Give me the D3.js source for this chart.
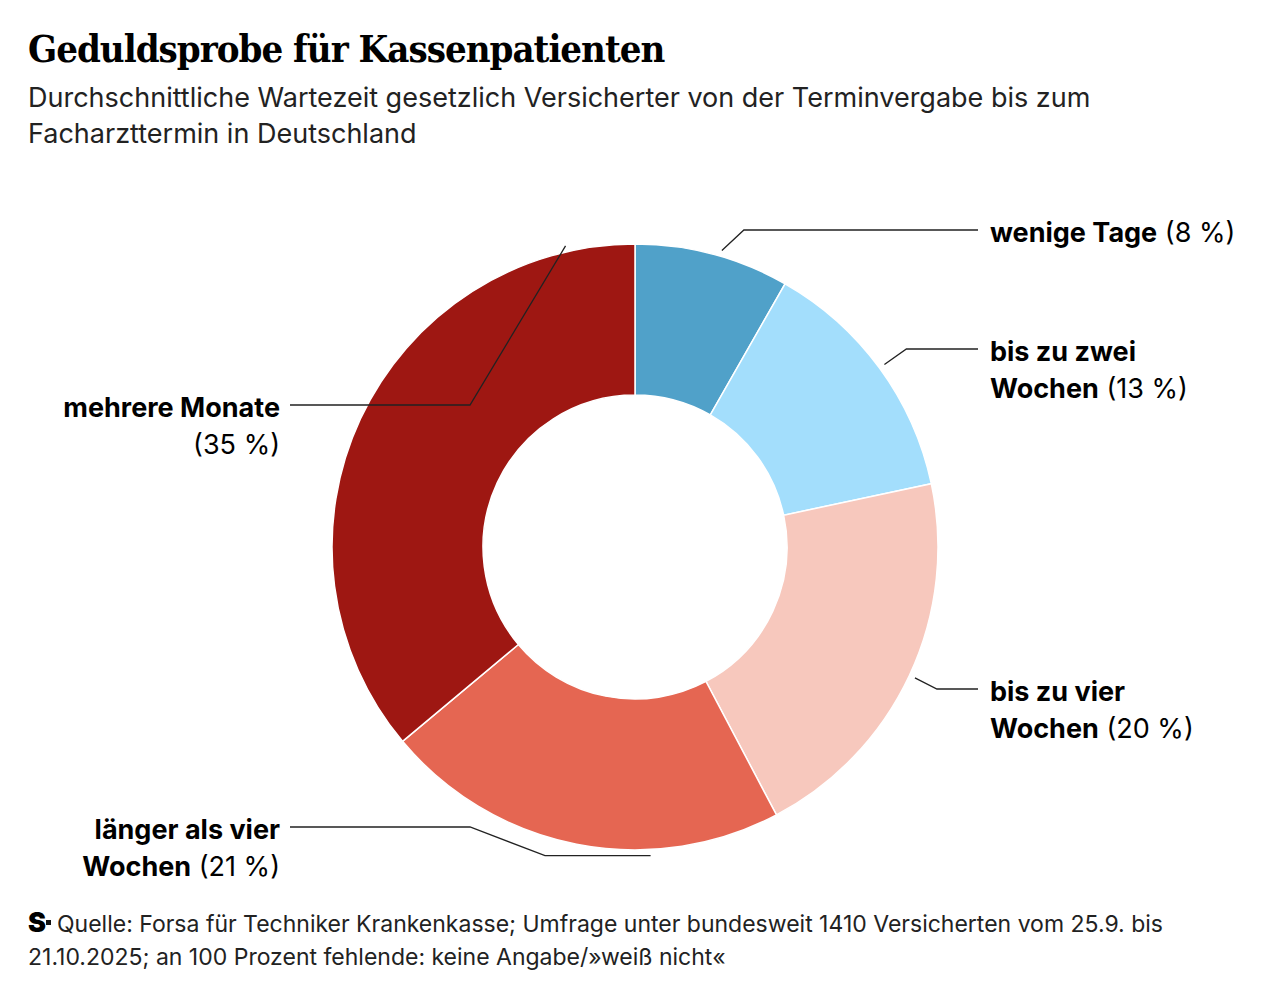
<!DOCTYPE html>
<html><head><meta charset="utf-8">
<script src="https://cdn.jsdelivr.net/npm/d3@7"></script>
<style>
body{margin:0;background:#fff;font-family:Inter,"Noto Sans",sans-serif;color:#111}
</style></head><body>
<svg id="c" width="1280" height="1007"></svg>
<script>
const categories = ['wenige Tage', 'bis zu zwei Wochen', 'bis zu vier Wochen', 'länger als vier Wochen', 'mehrere Monate']
const values = [8, 13, 20, 21, 35]
const colors = ['#50a1c9', '#a3defc', '#f7c8bd', '#e56652', '#9e1712']
// label lines: bold part / normal part, per line
const labelLines = [
  [['wenige Tage', ' (8 %)']],
  [['bis zu zwei', ''], ['Wochen', ' (13 %)']],
  [['bis zu vier', ''], ['Wochen', ' (20 %)']],
  [['länger als vier', ''], ['Wochen', ' (21 %)']],
  [['mehrere Monate', ''], ['', '(35 %)']]
]

const svg = d3.select('#c')
const cx = 635, cy = 547, R = 303, r = 152

svg.append('text').attr('x', 28).attr('y', 62)
  .style('font-family', '"DejaVu Serif Condensed","DejaVu Serif",serif')
  .style('font-weight', 900).style('font-size', '38px').style('letter-spacing', '-1px')
  .text('Geduldsprobe für Kassenpatienten')
const sub = ['Durchschnittliche Wartezeit gesetzlich Versicherter von der Terminvergabe bis zum', 'Facharzttermin in Deutschland']
sub.forEach((t, i) => svg.append('text').attr('x', 28).attr('y', 107 + i * 36)
  .style('font-size', '27px').attr('fill', '#222').text(t))

const pie = d3.pie().sort(null).value(d => d)
const arcs = pie(values)
const arc = d3.arc().innerRadius(r).outerRadius(R)

const g = svg.append('g').attr('transform', `translate(${cx},${cy})`)
g.selectAll('path').data(arcs).enter().append('path')
  .attr('d', arc).attr('fill', (d, i) => colors[i])
  .attr('stroke', '#fff').attr('stroke-width', 1.5)

// label layout: side, y of leader, text y of first line, radial offset angle tweak
const layout = [
  { side: 'r', ly: 230, ty: 242, frac: 0.55 },
  { side: 'r', ly: 349, ty: 361, frac: 0.5 },
  { side: 'r', ly: 689, ty: 701, frac: 0.5 },
  { side: 'l', ly: 827, ty: 839, frac: 0.32 },
  { side: 'l', ly: 405, ty: 417, frac: 0.9 }
]
arcs.forEach((a, i) => {
  const L = layout[i]
  const ang = a.startAngle + (a.endAngle - a.startAngle) * L.frac
  const px = cx + Math.sin(ang) * (R + 6), py = cy - Math.cos(ang) * (R + 6)
  const ex = L.side === 'r' ? Math.max(px + 22, 0) : Math.min(px - 25, 470)
  const pts = L.side === 'r'
    ? [[px, py], [px + 22, L.ly], [978, L.ly]]
    : [[px, py], [ex, L.ly], [290, L.ly]]
  if (i === 3) pts.splice(1, 0, [545, py])
  svg.append('path').attr('d', d3.line()(pts)).attr('fill', 'none')
    .attr('stroke', '#222').attr('stroke-width', 1.3)
  const tx = L.side === 'r' ? 990 : 280
  labelLines[i].forEach((ln, k) => {
    const t = svg.append('text').attr('x', tx).attr('y', L.ty + k * 37)
      .attr('text-anchor', L.side === 'r' ? 'start' : 'end').style('font-size', '27px')
    t.append('tspan').style('font-weight', 700).text(ln[0])
    t.append('tspan').text(ln[1])
  })
})

svg.append('text').attr('x', 28).attr('y', 932).style('font-size', '27px').style('font-weight', 900).text('S')
svg.append('rect').attr('x', 46).attr('y', 920).attr('width', 5).attr('height', 5).attr('fill', '#111')
const src = ['Quelle: Forsa für Techniker Krankenkasse; Umfrage unter bundesweit 1410 Versicherten vom 25.9. bis', '21.10.2025; an 100 Prozent fehlende: keine Angabe/»weiß nicht«']
src.forEach((t, i) => svg.append('text').attr('x', i ? 28 : 57).attr('y', 932 + i * 33)
  .style('font-size', '23px').attr('fill', '#222').text(t))
</script></body></html>
